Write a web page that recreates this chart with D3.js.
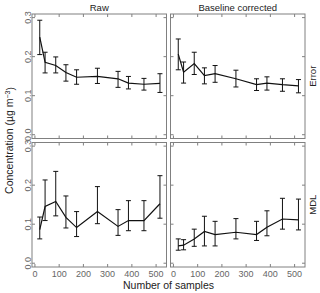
<!DOCTYPE html>
<html>
<head>
<meta charset="utf-8">
<script src="https://cdn.jsdelivr.net/npm/d3@7"></script>
<style>
  body { margin: 0; background: #fff; }
  text { font-family: "Liberation Sans", Arial, sans-serif; }
</style>
</head>
<body>
<svg id="chart" width="320" height="293"></svg>
<script>
// sample counts (same for every panel)
const samples = [22, 44, 88, 130, 174, 260, 345, 388, 452, 518];

// Raw / Error
const rawErrMean = [0.249, 0.184, 0.176, 0.158, 0.146, 0.148, 0.142, 0.131, 0.128, 0.130];
const rawErrLow  = [0.204, 0.157, 0.157, 0.136, 0.128, 0.130, 0.120, 0.116, 0.113, 0.107];
const rawErrHigh = [0.292, 0.210, 0.198, 0.178, 0.165, 0.169, 0.161, 0.148, 0.143, 0.155];

// Baseline corrected / Error
const blErrMean = [0.205, 0.159, 0.181, 0.150, 0.155, 0.142, 0.127, 0.131, 0.127, 0.124];
const blErrLow  = [0.165, 0.131, 0.153, 0.129, 0.133, 0.121, 0.112, 0.113, 0.110, 0.106];
const blErrHigh = [0.244, 0.185, 0.210, 0.170, 0.176, 0.164, 0.142, 0.147, 0.142, 0.140];

// Raw / MDL
const rawMdlMean = [0.085, 0.144, 0.157, 0.116, 0.090, 0.131, 0.093, 0.108, 0.108, 0.151];
const rawMdlLow  = [0.061, 0.108, 0.120, 0.089, 0.067, 0.100, 0.070, 0.082, 0.082, 0.114];
const rawMdlHigh = [0.117, 0.212, 0.234, 0.171, 0.131, 0.195, 0.136, 0.159, 0.159, 0.223];

// Baseline corrected / MDL
const blMdlMean = [0.043, 0.045, 0.061, 0.080, 0.072, 0.078, 0.072, 0.091, 0.112, 0.110];
const blMdlLow  = [0.032, 0.033, 0.042, 0.043, 0.043, 0.061, 0.057, 0.069, 0.086, 0.084];
const blMdlHigh = [0.061, 0.059, 0.086, 0.119, 0.106, 0.113, 0.106, 0.133, 0.165, 0.163];

const colTitles = ["Raw", "Baseline corrected"];
const rowTitles = ["Error", "MDL"];
const xTicks = [0, 100, 200, 300, 400, 500];
const yTicks = [0, 0.1, 0.2, 0.3];

const panels = [
  {row: 0, col: 0, mean: rawErrMean, lo: rawErrLow, hi: rawErrHigh},
  {row: 0, col: 1, mean: blErrMean, lo: blErrLow, hi: blErrHigh},
  {row: 1, col: 0, mean: rawMdlMean, lo: rawMdlLow, hi: rawMdlHigh},
  {row: 1, col: 1, mean: blMdlMean, lo: blMdlLow, hi: blMdlHigh}
];

const svg = d3.select("#chart");
const pw = 134.5, ph = 124.5;
const left0 = 32, top0 = 14, gapX = 4, gapY = 4;
const frameCol = "#808080", tickTxt = "#666";

const x = d3.scaleLinear().domain([-10, 545]).range([0, pw]);
const y = d3.scaleLinear().domain([-0.011, 0.308]).range([ph, 0]);

panels.forEach(function(p) {
  const ox = left0 + p.col * (pw + gapX);
  const oy = top0 + p.row * (ph + gapY);
  const g = svg.append("g").attr("transform", `translate(${ox},${oy})`);

  // inward ticks on all four sides
  const bottom = g.append("g").attr("transform", `translate(0,${ph})`)
    .call(d3.axisBottom(x).tickValues(xTicks).tickSize(-3).tickPadding(4));
  const topAx = g.append("g").call(d3.axisTop(x).tickValues(xTicks).tickSize(-3).tickFormat(""));
  const leftAx = g.append("g").call(d3.axisLeft(y).tickValues(yTicks).tickSize(-3).tickFormat(d3.format(".1f")));
  const rightAx = g.append("g").attr("transform", `translate(${pw},0)`)
    .call(d3.axisRight(y).tickValues(yTicks).tickSize(-3).tickFormat(""));

  [bottom, topAx, leftAx, rightAx].forEach(function(a) {
    a.select(".domain").remove();
    a.selectAll("line").attr("stroke", frameCol);
    a.selectAll("text").attr("fill", tickTxt).style("font-size", "9px");
  });

  if (p.row === 0) bottom.selectAll("text").remove();
  if (p.col === 1) leftAx.selectAll("text").remove();
  else {
    leftAx.selectAll("text")
      .attr("transform", "rotate(-90)")
      .attr("x", 0).attr("y", -1.5).attr("dy", 0)
      .attr("text-anchor", "middle");
  }

  g.append("rect").attr("width", pw).attr("height", ph)
    .attr("fill", "none").attr("stroke", frameCol).attr("stroke-width", 1);

  // error bars
  const bars = g.append("g").selectAll("g").data(samples).join("g");
  bars.append("line")
    .attr("x1", d => x(d)).attr("x2", d => x(d))
    .attr("y1", (d, i) => y(p.lo[i])).attr("y2", (d, i) => y(p.hi[i]));
  bars.append("line")
    .attr("x1", d => x(d) - 2.5).attr("x2", d => x(d) + 2.5)
    .attr("y1", (d, i) => y(p.lo[i])).attr("y2", (d, i) => y(p.lo[i]));
  bars.append("line")
    .attr("x1", d => x(d) - 2.5).attr("x2", d => x(d) + 2.5)
    .attr("y1", (d, i) => y(p.hi[i])).attr("y2", (d, i) => y(p.hi[i]));
  bars.selectAll("line").attr("stroke", "#111").attr("stroke-width", 1);

  const line = d3.line().x(d => x(d[0])).y(d => y(d[1]));
  g.append("path")
    .datum(samples.map((s, i) => [s, p.mean[i]]))
    .attr("d", line)
    .attr("fill", "none").attr("stroke", "#111").attr("stroke-width", 1.2);
});

// column titles
colTitles.forEach(function(t, c) {
  svg.append("text")
    .attr("x", left0 + c * (pw + gapX) + pw / 2).attr("y", 11)
    .attr("text-anchor", "middle").style("font-size", "9.5px").attr("fill", "#222")
    .text(t);
});

// row titles on the right
rowTitles.forEach(function(t, r) {
  const cy = top0 + r * (ph + gapY) + ph / 2;
  svg.append("text")
    .attr("transform", `translate(316,${cy}) rotate(-90)`)
    .attr("text-anchor", "middle").style("font-size", "9.5px").attr("fill", "#222")
    .text(t);
});

// axis titles
svg.append("text")
  .attr("x", left0 + pw + gapX / 2).attr("y", 289)
  .attr("text-anchor", "middle").style("font-size", "10.5px").attr("fill", "#222")
  .text("Number of samples");

const yl = svg.append("text")
  .attr("transform", `translate(13,${top0 + ph + gapY / 2}) rotate(-90)`)
  .attr("text-anchor", "middle").style("font-size", "10.5px").attr("fill", "#222");
yl.append("tspan").text("Concentration (µg m");
yl.append("tspan").attr("dy", "-0.4em").style("font-size", "7px").text("−3");
yl.append("tspan").attr("dy", "0.4em").text(")");
</script>
</body>
</html>
